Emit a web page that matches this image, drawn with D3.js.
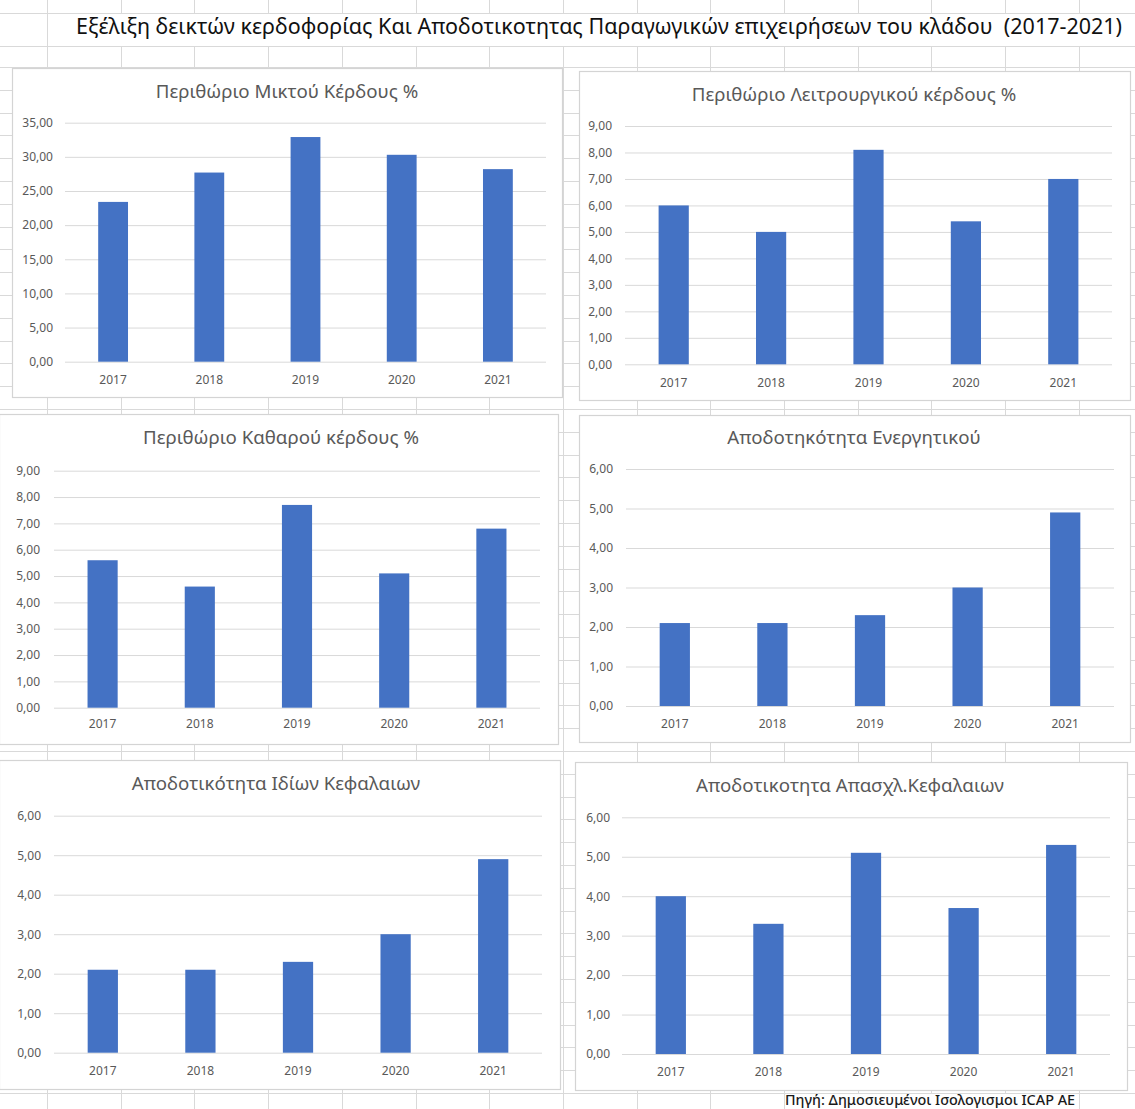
<!DOCTYPE html>
<html>
<head>
<meta charset="utf-8">
<script src="https://cdn.jsdelivr.net/npm/d3@7"></script>
<style>
  html, body { margin: 0; padding: 0; background: #fff; }
  svg { display: block; }
  text { white-space: pre; }
</style>
</head>
<body>
<svg id="sheet" width="1135" height="1109"></svg>
<script>
// ---- data ----
const years = ["2017", "2018", "2019", "2020", "2021"];
const grossProfitMargin       = [23.4, 27.7, 32.9, 30.3, 28.2];
const operatingProfitMargin   = [6.0, 5.0, 8.1, 5.4, 7.0];
const netProfitMargin         = [5.6, 4.6, 7.7, 5.1, 6.8];
const returnOnAssets          = [2.1, 2.1, 2.3, 3.0, 4.9];
const returnOnEquity          = [2.1, 2.1, 2.3, 3.0, 4.9];
const returnOnCapitalEmployed = [4.0, 3.3, 5.1, 3.7, 5.3];

const chartTitles = [
  "Περιθώριο Μικτού Κέρδους %",
  "Περιθώριο Λειτρουργικού κέρδους %",
  "Περιθώριο Καθαρού κέρδους %",
  "Αποδοτηκότητα Ενεργητικού",
  "Αποδοτικότητα Ιδίων Κεφαλαιων",
  "Αποδοτικοτητα Απασχλ.Κεφαλαιων"
];
const axisMax  = [35, 9, 9, 6, 6, 6];
const axisStep = [5, 1, 1, 1, 1, 1];

const mainTitle  = "Εξέλιξη δεικτών κερδοφορίας Και Αποδοτικοτητας Παραγωγικών επιχειρήσεων του κλάδου  (2017-2021)";
const sourceNote = "Πηγή: Δημοσιευμένοι Ισολογισμοι ICAP AE";

const seriesList = [grossProfitMargin, operatingProfitMargin, netProfitMargin,
                    returnOnAssets, returnOnEquity, returnOnCapitalEmployed];

// ---- layout ----
const W = 1135, H = 1109;
const FONT = "'Noto Sans', 'Open Sans', sans-serif";
const GRID = "#d9d9d9";
const TEXT_GREY = "#595959";
const BAR = "#4472C4";

// worksheet cell grid
const colLines = d3.range(15).map(k => 47 + 73.7 * k);
const rowLines = [13, 46].concat(d3.range(46).map(k => 67 + 22.8 * k));
const titleRow = [13, 46];
const footerRow = [1093, H];
const footerCell = [784, 1079];

// chart boxes: [left, top, right, bottom]; plot: [x0, x1, yTop, yBase]
const panels = [
  { box: [12, 68, 562, 397],    plot: [65, 546, 122.7, 361.7],   pad: 12, xLabelY: 384,  title: [287, 98] },
  { box: [579, 71, 1130, 400],  plot: [625, 1112, 126, 364.3],   pad: 13, xLabelY: 387,  title: [854, 101] },
  { box: [-1, 414, 558, 744],   plot: [54, 540, 470.7, 707.7],   pad: 14, xLabelY: 728,  title: [281, 444] },
  { box: [579, 415, 1130, 742], plot: [626, 1114, 469, 706],     pad: 13, xLabelY: 728,  title: [854, 444] },
  { box: [-1, 760, 560, 1089],  plot: [54, 542, 815.7, 1052.7],  pad: 13, xLabelY: 1075, title: [276, 790] },
  { box: [575, 762, 1127, 1090],plot: [622, 1110, 817.3, 1054],  pad: 12, xLabelY: 1076, title: [850, 792] }
];

const greek = d3.formatLocale({ decimal: ",", thousands: ".", grouping: [3], currency: ["", " €"] });
const fmt = greek.format(".2f");

const svg = d3.select("#sheet");
svg.append("rect").attr("width", W).attr("height", H).attr("fill", "#fff");

// ---- worksheet gridlines ----
const sheet = svg.append("g").attr("stroke", GRID).attr("stroke-width", 1);
rowLines.forEach(y => {
  const yy = Math.round(y) + 0.5;
  sheet.append("line").attr("x1", 0).attr("x2", W).attr("y1", yy).attr("y2", yy);
});
colLines.forEach((x, i) => {
  const xx = Math.round(x) + 0.5;
  const segs = [];
  // merged title cell: only its left border crosses the title row
  if (i === 0) segs.push([0, H]);
  else { segs.push([0, titleRow[0]]); segs.push([titleRow[1], H]); }
  segs.forEach(([a, b]) => {
    // inside the source-note cell the text hides the column borders
    if (x > footerCell[0] + 2 && x < footerCell[1] - 2 && b > footerRow[0]) b = footerRow[0];
    sheet.append("line").attr("x1", xx).attr("x2", xx).attr("y1", a).attr("y2", b);
  });
});

// main title
svg.append("text")
  .attr("x", 599).attr("y", 34)
  .attr("text-anchor", "middle")
  .attr("font-family", FONT).attr("font-size", 21.5)
  .attr("fill", "#111")
  .text(mainTitle);

// source note
svg.append("text")
  .attr("x", 785).attr("y", 1105)
  .attr("font-family", FONT).attr("font-size", 14.4)
  .attr("font-weight", 500)
  .attr("fill", "#1a1a1a")
  .text(sourceNote);

// ---- charts ----
panels.forEach((p, i) => {
  const [bx0, by0, bx1, by1] = p.box;
  const [x0, x1, yTop, yBase] = p.plot;
  const values = seriesList[i];
  const g = svg.append("g");

  g.append("rect")
    .attr("x", bx0 + 0.5).attr("y", by0 + 0.5)
    .attr("width", bx1 - bx0).attr("height", by1 - by0)
    .attr("fill", "#fff").attr("stroke", "#d4d4d4").attr("stroke-width", 1.2);

  const x = d3.scaleBand().domain(years).range([x0, x1])
    .paddingInner(0.69).paddingOuter(0.345);
  const y = d3.scaleLinear().domain([0, axisMax[i]]).range([yBase, yTop]);
  const ticks = d3.range(0, axisMax[i] + axisStep[i] / 2, axisStep[i]);

  const yAxis = g.append("g")
    .attr("transform", `translate(${x0},0)`)
    .call(d3.axisLeft(y).tickValues(ticks).tickFormat(fmt)
      .tickSize(-(x1 - x0)).tickPadding(p.pad));
  yAxis.select(".domain").remove();
  yAxis.selectAll(".tick line").attr("stroke", GRID).attr("stroke-width", 1);
  yAxis.selectAll(".tick text")
    .attr("fill", TEXT_GREY).attr("font-family", FONT).attr("font-size", 12);

  g.append("g").selectAll("rect")
    .data(years.map((yr, k) => ({ yr, v: values[k] })))
    .join("rect")
    .attr("x", d => x(d.yr))
    .attr("width", x.bandwidth())
    .attr("y", d => y(d.v))
    .attr("height", d => y(0) - y(d.v))
    .attr("fill", BAR);

  const xAxis = g.append("g")
    .attr("transform", `translate(0,${p.xLabelY})`)
    .call(d3.axisBottom(x).tickSize(0).tickPadding(0));
  xAxis.select(".domain").remove();
  xAxis.selectAll(".tick text")
    .attr("dy", 0).attr("y", 0)
    .attr("fill", TEXT_GREY).attr("font-family", FONT).attr("font-size", 12);

  g.append("text")
    .attr("x", p.title[0]).attr("y", p.title[1])
    .attr("text-anchor", "middle")
    .attr("font-family", FONT).attr("font-size", 18.7)
    .attr("fill", TEXT_GREY)
    .text(chartTitles[i]);
});
</script>
</body>
</html>
